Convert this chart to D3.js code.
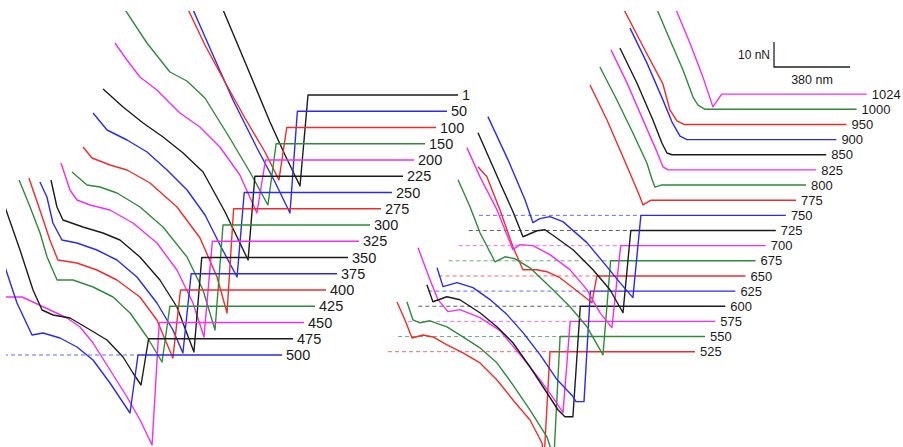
<!DOCTYPE html>
<html>
<head>
<meta charset="utf-8">
<script src="https://cdn.jsdelivr.net/npm/d3@7"></script>
<style>
  body { margin: 0; background: #fff; }
  svg { display: block; }
  text { font-family: "Liberation Sans", Arial, Helvetica, sans-serif; fill: #1a1a1a; }
</style>
</head>
<body>
<svg id="chart" width="903" height="447"></svg>
<script>
// Retraction force curves recorded at successive cycles, drawn offset-stacked.
// Every curve is [displacement (nm) relative to snap-off, force (nN) relative to its zero line].

const cyclesLeft = ["1", "50", "100", "150", "200", "225", "250", "275", "300",
                    "325", "350", "375", "400", "425", "450", "475", "500"];

const cyclesRight = ["525", "550", "575", "600", "625", "650", "675", "700", "725",
                     "750", "775", "800", "825", "850", "900", "950", "1000", "1024"];

const curvesLeft = [
  [[-435, 36], [-315, 13.2], [-190, -10.8], [-115, -24], [-40, -36.4], [0, 0]],
  [[-532, 42.5], [-422, 22.5], [-322, 4.5], [-202, -14.7], [-112, -28.3], [-37, -40.7], [0, 0]],
  [[-504, 49], [-409, 33], [-309, 18.2], [-209, 3.8], [-109, -9.8], [-39, -21], [0, 0]],
  [[-771, 55.5], [-646, 40.3], [-531, 28.7], [-446, 25.1], [-356, 18.3], [-241, 3.5], [-131, -11.3], [-41, -24.5], [0, 0]],
  [[-753, 46.8], [-693, 40], [-628, 33.2], [-543, 28], [-428, 18.8], [-328, 13.2], [-228, 5.2], [-128, -6], [-43, -21.2], [0, 0]],
  [[-759, 34.9], [-659, 27.7], [-559, 21.3], [-459, 15.7], [-359, 9.3], [-259, 1.7], [-149, -14.3], [-34, -33.5], [0, 0]],
  [[-756, 31.8], [-686, 25], [-586, 21], [-486, 16.2], [-386, 9], [-286, 1], [-196, -9], [-121, -21], [-36, -33.8], [0, 0]],
  [[-753, 24.7], [-708, 20.3], [-618, 17.5], [-533, 15.5], [-418, 10.3], [-283, 0.7], [-168, -11.7], [-83, -27.3], [-33, -41.7], [0, 0]],
  [[-755, 21.2], [-680, 16], [-615, 15.2], [-530, 12.8], [-415, 7.2], [-300, -0.8], [-180, -12.8], [-100, -26], [-40, -42], [0, 0]],
  [[-757, 31.3], [-712, 20.5], [-677, 16.5], [-612, 14.5], [-512, 12.5], [-397, 7.3], [-277, -0.7], [-177, -11.5], [-97, -24.7], [-42, -38.3], [0, 0]],
  [[-754, 31], [-724, 20.2], [-694, 15], [-594, 12.2], [-494, 9.8], [-409, 7], [-309, 0.2], [-209, -9], [-124, -19.8], [-39, -37.8], [0, 0]],
  [[-756, 36.7], [-721, 30.7], [-691, 20.3], [-646, 13.5], [-571, 12.3], [-471, 9.5], [-371, 5.5], [-271, -1.3], [-171, -11.7], [-91, -22.5], [-41, -31.7], [0, 0]],
  [[-758, 44.8], [-703, 32], [-653, 20], [-613, 12], [-518, 10.8], [-418, 8], [-318, 4], [-203, -2.8], [-118, -12], [-38, -27.2], [0, 0]],
  [[-754, 50.5], [-699, 39.7], [-649, 29.3], [-614, 19.7], [-564, 10.5], [-484, 10.5], [-384, 7.7], [-284, 3.7], [-199, -2.7], [-114, -12.3], [-39, -22.3], [0, 0]],
  [[-821, 10.2], [-686, 10.2], [-631, 8.2], [-546, 5], [-461, 1.8], [-396, -1.8], [-331, -8.2], [-246, -19], [-161, -29.8], [-96, -39], [-36, -49], [0, 0]],
  [[-753, 60.7], [-643, 35.5], [-578, 19.5], [-533, 11.5], [-478, 9.5], [-393, 8.3], [-308, 4.3], [-208, -0.5], [-128, -7.3], [-78, -13.7], [-38, -18.5], [0, 0]],
  [[-700, 43.6], [-605, 20.8], [-530, 8], [-475, 8.8], [-390, 6.8], [-305, 3.2], [-225, -2], [-140, -11.2], [-90, -17.2], [-40, -23.2], [0, 0]]
];

const curvesRight = [
  [[-765, 19.9], [-725, 12.7], [-690, 5.5], [-635, 6.7], [-585, 5.9], [-515, 2.7], [-435, -0.5], [-350, -4.5], [-265, -11.3], [-185, -19.3], [-100, -27.3], [-40, -36.5], [-30, -43.3], [0, 0]],
  [[-766, 13.9], [-736, 6.7], [-701, 5.5], [-651, 6.3], [-566, 3.9], [-486, -0.1], [-401, -4.5], [-316, -10.5], [-236, -19.3], [-151, -29.3], [-66, -40.1], [-31, -48.5], [0, 0]],
  [[-761, 29.5], [-701, 16.7], [-661, 8.7], [-611, 3.9], [-551, 4.7], [-451, 1.5], [-351, -3.7], [-251, -13.3], [-151, -23.3], [-86, -30.5], [-36, -36.5], [0, 0]],
  [[-767, 8.6], [-737, 1.8], [-667, 3.8], [-602, 2.6], [-502, -2.6], [-417, -8.2], [-337, -14.6], [-252, -24.2], [-167, -34.6], [-112, -41.4], [-77, -44.2], [-37, -44.2], [0, 0]],
  [[-767, 9.4], [-737, 1.8], [-667, 3.4], [-587, 1.4], [-502, -3.4], [-417, -9.4], [-337, -16.6], [-252, -25.4], [-167, -35.4], [-87, -42.2], [-72, -44.2], [-32, -44.2], [0, 0]],
  [[-613, 43.7], [-568, 39.7], [-503, 26.5], [-438, 11.7], [-388, 2.5], [-318, 2.5], [-268, 1.7], [-203, -0.7], [-138, -4.7], [-68, -9.1], [-43, -10.7], [-18, 0]],
  [[-763, 32.4], [-703, 21.6], [-653, 11.2], [-578, -0.4], [-528, 1.6], [-478, 0.8], [-403, -2.8], [-288, -11.6], [-203, -18.4], [-118, -26.4], [-38, -37.6], [0, 0]],
  [[-769, 39.2], [-704, 27.6], [-619, 14.4], [-539, -1.6], [-504, 0.4], [-439, 0], [-354, -3.6], [-254, -9.6], [-169, -17.6], [-104, -26.8], [-44, -32.8], [0, 0]],
  [[-764, 39.1], [-654, 19.1], [-589, 7.5], [-539, -2.5], [-469, -0.1], [-429, 0.3], [-379, -2.5], [-289, -7.7], [-189, -15.7], [-104, -23.7], [-39, -32.9], [0, 0]],
  [[-765, 39.5], [-665, 22.3], [-580, 6.3], [-540, -2.9], [-505, -1.3], [-455, -0.5], [-390, -2.5], [-270, -10.9], [-170, -20.5], [-105, -26.9], [-40, -32.9], [0, 0]],
  [[-305, 46.1], [-220, 32.1], [-140, 17.3], [-80, 6.1], [-55, 1.3], [-40, -1.9], [0, 0]],
  [[-306, 47.2], [-221, 34], [-141, 20.8], [-71, 8.8], [-46, 2.4], [-31, -0.8], [0, 0]],
  [[-301, 48], [-221, 34.8], [-141, 20], [-71, 7.2], [-41, 1.2], [-16, 0], [0, 0]],
  [[-307, 42.7], [-222, 28.7], [-142, 13.9], [-97, 4.7], [-72, 0.7], [-47, 0], [0, 0]],
  [[-307, 44.6], [-222, 30.6], [-142, 15.8], [-97, 7], [-57, 1.4], [-22, 0], [0, 0]],
  [[-413, 49.8], [-283, 29.8], [-193, 16.2], [-158, 5.8], [-123, 1.4], [-88, 0], [0, 0]],
  [[-293, 43.7], [-208, 27.7], [-143, 15.7], [-93, 4.9], [-68, 1.7], [-33, 0], [0, 0]],
  [[-249, 37.7], [-159, 20.5], [-94, 6.9], [-44, -5.1], [0, 0]]
];

// Cycles whose zero-force reference is drawn as a dashed line
const zeroLineCycles = ["500", "525", "550", "575", "600", "625", "650", "675", "700", "725", "750"];
const zeroLineLength = 810; // nm

// Scale bar
const scaleBarNm = 380;
const scaleBarNN = 10;

const palette = ["#1c1c1c", "#2a2af2", "#f42a2a", "#2f8a3a", "#f52cf2"];

// nm -> px horizontally, nN -> px vertically
const x = d3.scaleLinear().domain([0, 4515]).range([0, 903]);
const y = d3.scaleLinear().domain([0, 178.8]).range([447, 0]);

const panels = [
  { cycles: cyclesLeft, curves: curvesLeft, x0: 1540, f0: 140.8, stepX: -53.125, stepF: -6.5,
    extent: 750, extentStep: -1.875, labelGap: 20, fontSize: 14.5, colorOffset: 0 },
  { cycles: cyclesRight, curves: curvesRight, x0: 2750, f0: 38.12, stepX: 50.5, stepF: 6.06,
    extent: 725, extentStep: 0, labelGap: 25, fontSize: 13, colorOffset: 17 }
];

const svg = d3.select("#chart");
svg.append("defs").append("clipPath").attr("id", "plot-clip")
  .append("rect").attr("x", 6).attr("y", 11).attr("width", 897).attr("height", 436);

const plot = svg.append("g").attr("clip-path", "url(#plot-clip)");
const zeroLayer = plot.append("g");
const curveLayer = plot.append("g");
const labelLayer = svg.append("g");

panels.forEach(p => {
  p.cycles.forEach((cycle, i) => {
    const ox = p.x0 + i * p.stepX;
    const of = p.f0 + i * p.stepF;
    const color = palette[(p.colorOffset + i) % palette.length];
    const ext = p.extent + i * p.extentStep;
    const line = d3.line()
      .x(d => x(ox + d[0]))
      .y(d => y(of + d[1]));

    if (zeroLineCycles.includes(cycle)) {
      zeroLayer.append("path")
        .attr("d", line([[-zeroLineLength, 0], [0, 0]]))
        .attr("fill", "none")
        .attr("stroke", color)
        .attr("stroke-width", 1)
        .attr("stroke-opacity", 0.7)
        .attr("stroke-dasharray", "4,3");
    }

    const pts = p.curves[i].concat([[ext, 0]]);
    curveLayer.append("path")
      .attr("d", line(pts))
      .attr("fill", "none")
      .attr("stroke", color)
      .attr("stroke-width", 1.4)
      .attr("stroke-linejoin", "round");

    labelLayer.append("text")
      .attr("x", x(ox + ext + p.labelGap))
      .attr("y", y(of))
      .attr("dy", "0.36em")
      .attr("font-size", p.fontSize)
      .text(cycle);
  });
});

// Scale bar: 10 nN vertical, 380 nm horizontal
const sbX = 3870, sbF = 152;
const bar = svg.append("g");
bar.append("path")
  .attr("d", d3.line()([[x(sbX), y(sbF + scaleBarNN)], [x(sbX), y(sbF)], [x(sbX + scaleBarNm), y(sbF)]]))
  .attr("fill", "none")
  .attr("stroke", "#222")
  .attr("stroke-width", 1.3);
bar.append("text")
  .attr("x", x(sbX) - 4)
  .attr("y", y(sbF + scaleBarNN / 2))
  .attr("dy", "0.36em")
  .attr("text-anchor", "end")
  .attr("font-size", 12)
  .text(scaleBarNN + " nN");
bar.append("text")
  .attr("x", x(sbX + scaleBarNm / 2))
  .attr("y", y(sbF) + 12)
  .attr("dy", "0.36em")
  .attr("text-anchor", "middle")
  .attr("font-size", 12.5)
  .text(scaleBarNm + " nm");
</script>
</body>
</html>
